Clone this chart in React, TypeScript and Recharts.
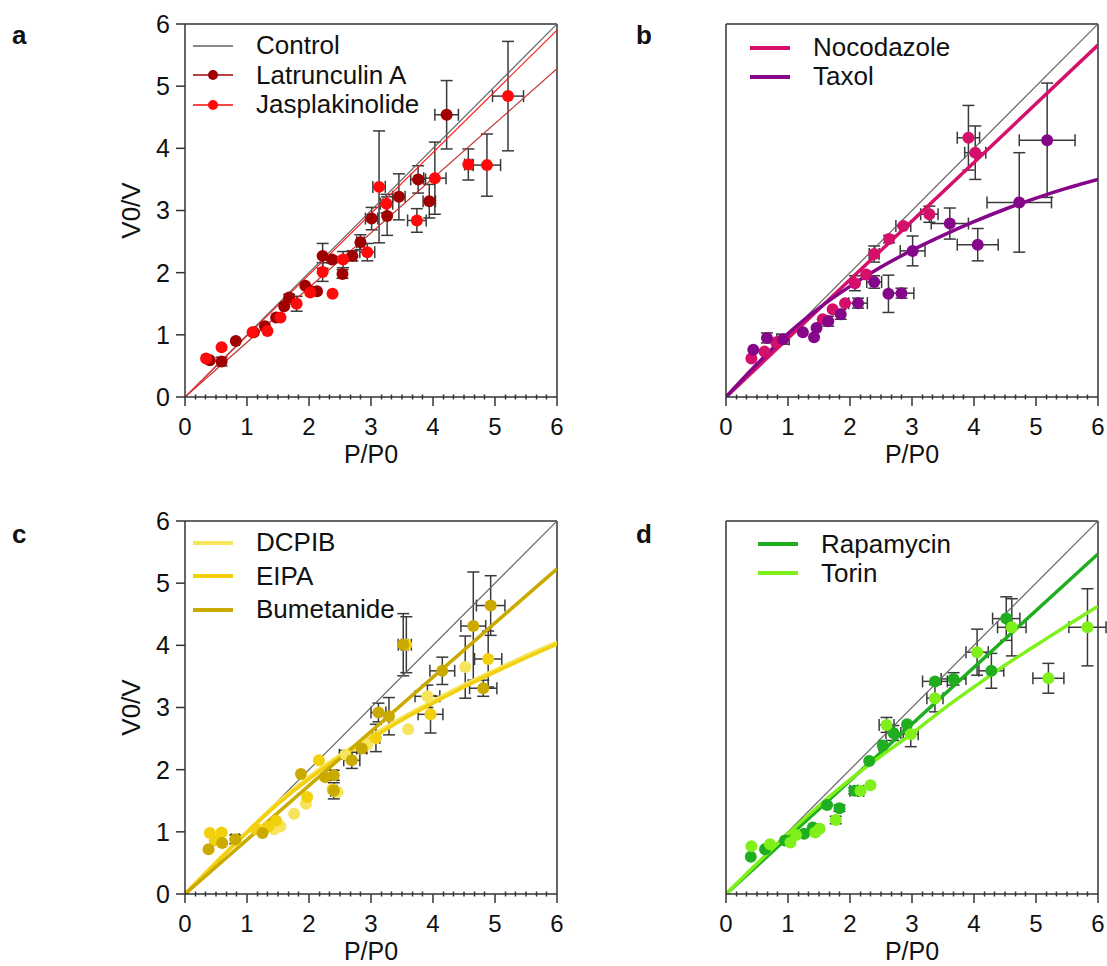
import React from "react";
import {
  ComposedChart,
  Scatter,
  Line,
  XAxis,
  YAxis,
  ErrorBar,
  ReferenceLine,
  Legend,
} from "recharts";

const FONT = "'Liberation Sans', Arial, Helvetica, sans-serif";
const AXIS = "#333333";
const ERR = "#3a3a3a";

type Pt = { x: number; y: number; ex?: number; ey?: number };

// shared axis values
const majorTicks = [0, 1, 2, 3, 4, 5, 6];
const minorTicks = [
  0.17, 0.33, 0.5, 0.67, 0.83, 1.17, 1.33, 1.5, 1.67, 1.83, 2.17, 2.33, 2.5,
  2.67, 2.83, 3.17, 3.33, 3.5, 3.67, 3.83, 4.17, 4.33, 4.5, 4.67, 4.83, 5.17,
  5.33, 5.5, 5.67, 5.83,
];
const xTicks = [...majorTicks, ...minorTicks].sort((a, b) => a - b);
const controlFit: Pt[] = [
  { x: 0, y: 0 },
  { x: 6, y: 6 },
];

// panel a
const latrunculinA: Pt[] = [
  { x: 0.4, y: 0.59 },
  { x: 0.59, y: 0.57, ey: 0.07 },
  { x: 0.82, y: 0.9 },
  { x: 1.11, y: 1.04 },
  { x: 1.29, y: 1.14 },
  { x: 1.47, y: 1.28 },
  { x: 1.6, y: 1.46 },
  { x: 1.68, y: 1.6, ey: 0.05 },
  { x: 1.94, y: 1.79 },
  { x: 2.03, y: 1.7 },
  { x: 2.13, y: 1.7 },
  { x: 2.22, y: 2.27, ey: 0.2 },
  { x: 2.37, y: 2.21, ey: 0.05 },
  { x: 2.54, y: 1.98, ey: 0.07 },
  { x: 2.7, y: 2.27, ey: 0.08, ex: 0.06 },
  { x: 2.83, y: 2.49, ey: 0.12, ex: 0.06 },
  { x: 3.01, y: 2.87, ey: 0.18, ex: 0.1 },
  { x: 3.26, y: 2.91, ey: 0.31 },
  { x: 3.45, y: 3.22, ey: 0.37, ex: 0.1 },
  { x: 3.76, y: 3.5, ey: 0.22, ex: 0.12 },
  { x: 3.94, y: 3.15, ey: 0.27, ex: 0.1 },
  { x: 4.22, y: 4.54, ey: 0.55, ex: 0.19 },
];
const jasplakinolide: Pt[] = [
  { x: 0.34, y: 0.62 },
  { x: 0.59, y: 0.8 },
  { x: 1.09, y: 1.04 },
  { x: 1.33, y: 1.06 },
  { x: 1.54, y: 1.28 },
  { x: 1.8, y: 1.5, ey: 0.12 },
  { x: 2.02, y: 1.68 },
  { x: 2.22, y: 2.01, ey: 0.15 },
  { x: 2.38, y: 1.66 },
  { x: 2.55, y: 2.21, ey: 0.13 },
  { x: 2.94, y: 2.33, ey: 0.14, ex: 0.12 },
  { x: 3.13, y: 3.38, ey: 0.9, ex: 0.1 },
  { x: 3.25, y: 3.11, ey: 0.15, ex: 0.1 },
  { x: 3.74, y: 2.84, ey: 0.19, ex: 0.15 },
  { x: 4.03, y: 3.52, ey: 0.58, ex: 0.18 },
  { x: 4.57, y: 3.74, ey: 0.25, ex: 0.06 },
  { x: 4.87, y: 3.73, ey: 0.5, ex: 0.22 },
  { x: 5.21, y: 4.84, ey: 0.88, ex: 0.25 },
];
const latrunculinFit: Pt[] = [
  { x: 0, y: 0 },
  { x: 6, y: 5.28 },
];
const jasplakinolideFit: Pt[] = [
  { x: 0, y: 0 },
  { x: 6, y: 5.9 },
];

// panel b
const nocodazole: Pt[] = [
  { x: 0.41, y: 0.62 },
  { x: 0.62, y: 0.73 },
  { x: 0.81, y: 0.88 },
  { x: 1.56, y: 1.25 },
  { x: 1.72, y: 1.41 },
  { x: 1.92, y: 1.51 },
  { x: 2.08, y: 1.83, ey: 0.12 },
  { x: 2.26, y: 1.97 },
  { x: 2.39, y: 2.3, ey: 0.13, ex: 0.08 },
  { x: 2.63, y: 2.54, ey: 0.06 },
  { x: 2.86, y: 2.75, ex: 0.12 },
  { x: 3.28, y: 2.94, ey: 0.13, ex: 0.14 },
  { x: 3.91, y: 4.17, ey: 0.52, ex: 0.18 },
  { x: 4.02, y: 3.93, ey: 0.43, ex: 0.17 },
];
const taxol: Pt[] = [
  { x: 0.44, y: 0.76 },
  { x: 0.66, y: 0.95, ey: 0.08 },
  { x: 0.92, y: 0.93, ey: 0.08, ex: 0.1 },
  { x: 1.24, y: 1.04 },
  { x: 1.42, y: 0.96 },
  { x: 1.46, y: 1.11 },
  { x: 1.65, y: 1.22, ey: 0.08 },
  { x: 1.85, y: 1.33, ey: 0.08 },
  { x: 2.13, y: 1.51, ey: 0.08, ex: 0.15 },
  { x: 2.39, y: 1.85, ey: 0.1, ex: 0.12 },
  { x: 2.62, y: 1.66, ey: 0.3 },
  { x: 2.83, y: 1.67, ey: 0.08, ex: 0.2 },
  { x: 3.01, y: 2.35, ey: 0.24, ex: 0.2 },
  { x: 3.61, y: 2.79, ey: 0.25, ex: 0.3 },
  { x: 4.06, y: 2.45, ey: 0.26, ex: 0.33 },
  { x: 4.73, y: 3.13, ey: 0.8, ex: 0.52 },
  { x: 5.18, y: 4.13, ey: 0.92, ex: 0.45 },
];
const nocodazoleFit: Pt[] = [
  { x: 0, y: 0 },
  { x: 6, y: 5.66 },
];
const taxolFit: Pt[] = [
  { x: 0, y: 0 },
  { x: 0.5, y: 0.53 },
  { x: 1, y: 1.02 },
  { x: 1.5, y: 1.43 },
  { x: 2, y: 1.78 },
  { x: 2.5, y: 2.09 },
  { x: 3, y: 2.36 },
  { x: 3.5, y: 2.6 },
  { x: 4, y: 2.82 },
  { x: 4.5, y: 3.02 },
  { x: 5, y: 3.2 },
  { x: 5.5, y: 3.36 },
  { x: 6, y: 3.5 },
];

// panel c
const dcpib: Pt[] = [
  { x: 1.19, y: 1.04 },
  { x: 1.44, y: 1.04 },
  { x: 1.54, y: 1.09 },
  { x: 1.76, y: 1.29 },
  { x: 1.95, y: 1.45 },
  { x: 2.46, y: 1.64 },
  { x: 2.59, y: 2.24, ey: 0.07, ex: 0.1 },
  { x: 2.94, y: 2.4 },
  { x: 3.6, y: 2.65 },
  { x: 3.91, y: 3.18, ey: 0.18, ex: 0.2 },
  { x: 4.52, y: 3.65, ey: 0.5 },
];
const eipa: Pt[] = [
  { x: 0.4, y: 0.98 },
  { x: 0.48, y: 0.86 },
  { x: 0.59, y: 0.99 },
  { x: 0.82, y: 0.86 },
  { x: 1.14, y: 1.04 },
  { x: 1.34, y: 1.08 },
  { x: 1.47, y: 1.18 },
  { x: 1.97, y: 1.56 },
  { x: 2.16, y: 2.15 },
  { x: 2.38, y: 1.68 },
  { x: 3.08, y: 2.51, ey: 0.22, ex: 0.06 },
  { x: 3.57, y: 4.01, ey: 0.45, ex: 0.08 },
  { x: 3.96, y: 2.89, ey: 0.3, ex: 0.2 },
  { x: 4.89, y: 3.78, ey: 0.45, ex: 0.22 },
];
const bumetanide: Pt[] = [
  { x: 0.38, y: 0.72 },
  { x: 0.6, y: 0.82 },
  { x: 0.81, y: 0.88, ey: 0.07, ex: 0.06 },
  { x: 1.25, y: 0.98 },
  { x: 1.87, y: 1.93 },
  { x: 2.26, y: 1.88 },
  { x: 2.4, y: 1.91, ey: 0.08, ex: 0.05 },
  { x: 2.4, y: 1.66, ey: 0.13, ex: 0.05 },
  { x: 2.69, y: 2.15, ey: 0.13, ex: 0.13 },
  { x: 2.85, y: 2.34, ey: 0.07, ex: 0.08 },
  { x: 3.12, y: 2.92, ey: 0.15, ex: 0.12 },
  { x: 3.29, y: 2.86, ey: 0.3 },
  { x: 3.52, y: 4.01, ey: 0.5, ex: 0.08 },
  { x: 4.15, y: 3.59, ey: 0.22, ex: 0.2 },
  { x: 4.65, y: 4.31, ey: 0.87, ex: 0.2 },
  { x: 4.81, y: 3.31, ey: 0.13, ex: 0.22 },
  { x: 4.93, y: 4.64, ey: 0.48, ex: 0.23 },
];
const dcpibFit: Pt[] = [
  { x: 0, y: 0 },
  { x: 0.5, y: 0.51 },
  { x: 1, y: 1.0 },
  { x: 1.5, y: 1.47 },
  { x: 2, y: 1.88 },
  { x: 2.5, y: 2.23 },
  { x: 3, y: 2.54 },
  { x: 3.5, y: 2.83 },
  { x: 4, y: 3.1 },
  { x: 4.5, y: 3.36 },
  { x: 5, y: 3.6 },
  { x: 5.5, y: 3.83 },
  { x: 6, y: 4.05 },
];
const eipaFit: Pt[] = [
  { x: 0, y: 0 },
  { x: 0.5, y: 0.5 },
  { x: 1, y: 0.99 },
  { x: 1.5, y: 1.45 },
  { x: 2, y: 1.85 },
  { x: 2.5, y: 2.2 },
  { x: 3, y: 2.5 },
  { x: 3.5, y: 2.8 },
  { x: 4, y: 3.07 },
  { x: 4.5, y: 3.33 },
  { x: 5, y: 3.57 },
  { x: 5.5, y: 3.8 },
  { x: 6, y: 4.02 },
];
const bumetanideFit: Pt[] = [
  { x: 0, y: 0 },
  { x: 6, y: 5.23 },
];

// panel d
const rapamycin: Pt[] = [
  { x: 0.4, y: 0.6 },
  { x: 0.63, y: 0.72 },
  { x: 0.95, y: 0.86 },
  { x: 1.26, y: 0.97 },
  { x: 1.4, y: 1.07 },
  { x: 1.63, y: 1.43 },
  { x: 1.83, y: 1.38, ey: 0.05 },
  { x: 2.07, y: 1.66, ey: 0.05, ex: 0.07 },
  { x: 2.31, y: 2.14 },
  { x: 2.53, y: 2.39, ex: 0.06 },
  { x: 2.7, y: 2.59, ey: 0.12, ex: 0.12 },
  { x: 2.92, y: 2.73 },
  { x: 3.37, y: 3.42, ex: 0.2 },
  { x: 3.67, y: 3.46, ey: 0.1, ex: 0.2 },
  { x: 4.28, y: 3.59, ey: 0.28, ex: 0.2 },
  { x: 4.52, y: 4.43, ey: 0.35, ex: 0.22 },
];
const torin: Pt[] = [
  { x: 0.41, y: 0.77 },
  { x: 0.71, y: 0.8 },
  { x: 1.04, y: 0.83 },
  { x: 1.13, y: 0.95 },
  { x: 1.44, y: 0.99 },
  { x: 1.51, y: 1.05 },
  { x: 1.77, y: 1.19, ey: 0.06 },
  { x: 2.17, y: 1.66, ex: 0.05 },
  { x: 2.33, y: 1.75 },
  { x: 2.59, y: 2.72, ey: 0.12, ex: 0.12 },
  { x: 2.98, y: 2.57, ey: 0.2, ex: 0.12 },
  { x: 3.37, y: 3.15, ey: 0.22, ex: 0.13 },
  { x: 4.05, y: 3.89, ey: 0.37, ex: 0.18 },
  { x: 4.61, y: 4.29, ey: 0.46, ex: 0.23 },
  { x: 5.2, y: 3.47, ey: 0.24, ex: 0.25 },
  { x: 5.83, y: 4.29, ey: 0.62, ex: 0.3 },
];
const rapamycinFit: Pt[] = [
  { x: 0, y: 0 },
  { x: 6, y: 5.47 },
];
const torinFit: Pt[] = [
  { x: 0, y: 0 },
  { x: 0.5, y: 0.49 },
  { x: 1, y: 0.97 },
  { x: 1.5, y: 1.42 },
  { x: 2, y: 1.84 },
  { x: 2.5, y: 2.22 },
  { x: 3, y: 2.58 },
  { x: 3.5, y: 2.97 },
  { x: 4, y: 3.33 },
  { x: 4.5, y: 3.68 },
  { x: 5, y: 4.0 },
  { x: 5.5, y: 4.32 },
  { x: 6, y: 4.63 },
];

interface Series {
  name: string;
  color: string;
  data: Pt[];
}
interface Fit {
  name: string;
  color: string;
  width: number;
  curve?: boolean;
  data: Pt[];
}
interface LegendRow {
  name: string;
  color: string;
  width: number;
  dot?: boolean;
}

// x ticks: long tick + label on integers, short tick crossing the axis otherwise
const TICK_SIZE = 9;
const TICK_MARGIN = 12;
const XTick = (props: any) => {
  const { x, y, payload } = props;
  const axisY = y - TICK_SIZE - TICK_MARGIN;
  const major = majorTicks.includes(payload.value);
  if (!major) {
    return <line x1={x} x2={x} y1={axisY - 2.5} y2={axisY + 2.5} stroke={AXIS} strokeWidth={1.5} />;
  }
  return (
    <g>
      <line x1={x} x2={x} y1={axisY} y2={axisY + TICK_SIZE} stroke={AXIS} strokeWidth={1.5} />
      <text x={x} y={y} dy="0.71em" textAnchor="middle" fill="#111" fontSize={24} fontFamily={FONT}>
        {payload.value}
      </text>
    </g>
  );
};

const LegendBox = ({ rows, rowHeight }: { rows: LegendRow[]; rowHeight: number }) => (
  <div style={{ fontFamily: FONT, fontSize: 26, color: "#111" }}>
    {rows.map((r) => (
      <div
        key={r.name}
        style={{ display: "flex", alignItems: "center", height: rowHeight, whiteSpace: "nowrap" }}
      >
        <svg width={40} height={12} style={{ marginRight: 23, flex: "none" }}>
          <line x1={0} y1={6} x2={40} y2={6} stroke={r.color} strokeWidth={r.width} />
          {r.dot && <circle cx={20} cy={6} r={5} fill={r.color} />}
        </svg>
        <span>{r.name}</span>
      </div>
    ))}
  </div>
);

interface PanelProps {
  left: number;
  top: number;
  letter: string;
  letterLeft: number;
  letterTop: number;
  yLabels: boolean;
  scatters: Series[];
  fits: Fit[];
  legend: LegendRow[];
  legendLeft: number;
  legendTop: number;
  legendRow: number;
}

const Panel = (p: PanelProps) => {
  return (
    <div style={{ position: "absolute", left: p.left, top: p.top }}>
      <ComposedChart
        width={575}
        height={480}
        margin={{ top: 24, right: 18, bottom: 23, left: 125 }}
      >
        <XAxis
          type="number"
          dataKey="x"
          domain={[0, 6]}
          ticks={xTicks}
          interval={0}
          allowDataOverflow
          height={60}
          stroke={AXIS}
          strokeWidth={1.5}
          tickLine={false}
          tickSize={TICK_SIZE}
          tickMargin={TICK_MARGIN}
          tick={<XTick />}
          label={{
            value: "P/P0",
            position: "center",
            dy: 27,
            fontSize: 25,
            fill: "#111",
            fontFamily: FONT,
          }}
        />
        <YAxis
          type="number"
          dataKey="y"
          domain={[0, 6]}
          ticks={majorTicks}
          interval={0}
          allowDataOverflow
          width={60}
          stroke={AXIS}
          strokeWidth={1.5}
          tickSize={9}
          tickMargin={6}
          tick={p.yLabels ? { fill: "#111", fontSize: 25, fontFamily: FONT } : false}
          label={
            p.yLabels
              ? {
                  value: "V0/V",
                  angle: -90,
                  position: "center",
                  dx: -24,
                  fontSize: 26,
                  fill: "#111",
                  fontFamily: FONT,
                }
              : undefined
          }
        />
        <ReferenceLine y={6} stroke={AXIS} strokeWidth={1.5} />
        <ReferenceLine x={6} stroke={AXIS} strokeWidth={1.5} />

        {p.scatters.map((s) => (
          <Scatter
            key={s.name}
            name={s.name}
            data={s.data}
            fill={s.color}
            isAnimationActive={false}
            shape={(props: any) => (
              <circle cx={props.cx} cy={props.cy} r={6} fill={s.color} />
            )}
          >
            <ErrorBar dataKey="ey" direction="y" width={6} stroke={ERR} strokeWidth={1.5} />
            <ErrorBar dataKey="ex" direction="x" width={6} stroke={ERR} strokeWidth={1.5} />
          </Scatter>
        ))}

        <Line
          data={controlFit}
          dataKey="y"
          type="linear"
          stroke="#666"
          strokeWidth={1.2}
          dot={false}
          activeDot={false}
          isAnimationActive={false}
        />
        {p.fits.map((f) => (
          <Line
            key={f.name}
            data={f.data}
            dataKey="y"
            type={f.curve ? "monotone" : "linear"}
            stroke={f.color}
            strokeWidth={f.width}
            dot={false}
            activeDot={false}
            isAnimationActive={false}
          />
        ))}

        <Legend
          layout="vertical"
          align="center"
          verticalAlign="middle"
          wrapperStyle={{ left: p.legendLeft, top: p.legendTop, width: "auto" }}
          content={() => <LegendBox rows={p.legend} rowHeight={p.legendRow} />}
        />
      </ComposedChart>
      <div
        style={{
          position: "absolute",
          left: p.letterLeft,
          top: p.letterTop,
          fontFamily: FONT,
          fontWeight: "bold",
          fontSize: 26,
          color: "#111",
        }}
      >
        {p.letter}
      </div>
    </div>
  );
};

export default function App() {
  return (
    <div
      style={{
        position: "absolute",
        left: 0,
        top: 0,
        width: 1107,
        height: 966,
        background: "#fff",
        overflow: "hidden",
      }}
    >
      <Panel
        left={0}
        top={0}
        letter="a"
        letterLeft={12}
        letterTop={20}
        yLabels
        scatters={[
          { name: "Latrunculin A", color: "#a00000", data: latrunculinA },
          { name: "Jasplakinolide", color: "#ff0a0a", data: jasplakinolide },
        ]}
        fits={[
          { name: "Latrunculin A fit", color: "#c03030", width: 1.2, data: latrunculinFit },
          { name: "Jasplakinolide fit", color: "#ff2020", width: 1.2, data: jasplakinolideFit },
        ]}
        legend={[
          { name: "Control", color: "#888", width: 2 },
          { name: "Latrunculin A", color: "#a00000", width: 1.5, dot: true },
          { name: "Jasplakinolide", color: "#ff0a0a", width: 1.5, dot: true },
        ]}
        legendLeft={193}
        legendTop={31}
        legendRow={29.5}
      />
      <Panel
        left={541}
        top={0}
        letter="b"
        letterLeft={95}
        letterTop={20}
        yLabels={false}
        scatters={[
          { name: "Nocodazole", color: "#d4106a", data: nocodazole },
          { name: "Taxol", color: "#86068a", data: taxol },
        ]}
        fits={[
          { name: "Nocodazole fit", color: "#d4106a", width: 3.5, data: nocodazoleFit },
          { name: "Taxol fit", color: "#86068a", width: 3.5, curve: true, data: taxolFit },
        ]}
        legend={[
          { name: "Nocodazole", color: "#d4106a", width: 4 },
          { name: "Taxol", color: "#86068a", width: 4 },
        ]}
        legendLeft={209}
        legendTop={33}
        legendRow={29}
      />
      <Panel
        left={0}
        top={497}
        letter="c"
        letterLeft={12}
        letterTop={22}
        yLabels
        scatters={[
          { name: "DCPIB", color: "#f6e45c", data: dcpib },
          { name: "EIPA", color: "#f2d00e", data: eipa },
          { name: "Bumetanide", color: "#cbaa00", data: bumetanide },
        ]}
        fits={[
          { name: "DCPIB fit", color: "#f6e45c", width: 4, curve: true, data: dcpibFit },
          { name: "EIPA fit", color: "#f2d00e", width: 3.5, curve: true, data: eipaFit },
          { name: "Bumetanide fit", color: "#cbaa00", width: 3.5, data: bumetanideFit },
        ]}
        legend={[
          { name: "DCPIB", color: "#f6e45c", width: 4 },
          { name: "EIPA", color: "#f2d00e", width: 4 },
          { name: "Bumetanide", color: "#cbaa00", width: 4 },
        ]}
        legendLeft={193}
        legendTop={29}
        legendRow={33.5}
      />
      <Panel
        left={541}
        top={497}
        letter="d"
        letterLeft={95}
        letterTop={22}
        yLabels={false}
        scatters={[
          { name: "Rapamycin", color: "#1fae1f", data: rapamycin },
          { name: "Torin", color: "#7ff01a", data: torin },
        ]}
        fits={[
          { name: "Rapamycin fit", color: "#1fae1f", width: 3.5, data: rapamycinFit },
          { name: "Torin fit", color: "#7ff01a", width: 3.5, curve: true, data: torinFit },
        ]}
        legend={[
          { name: "Rapamycin", color: "#1fae1f", width: 4 },
          { name: "Torin", color: "#7ff01a", width: 4 },
        ]}
        legendLeft={217}
        legendTop={32.5}
        legendRow={29}
      />
    </div>
  );
}
